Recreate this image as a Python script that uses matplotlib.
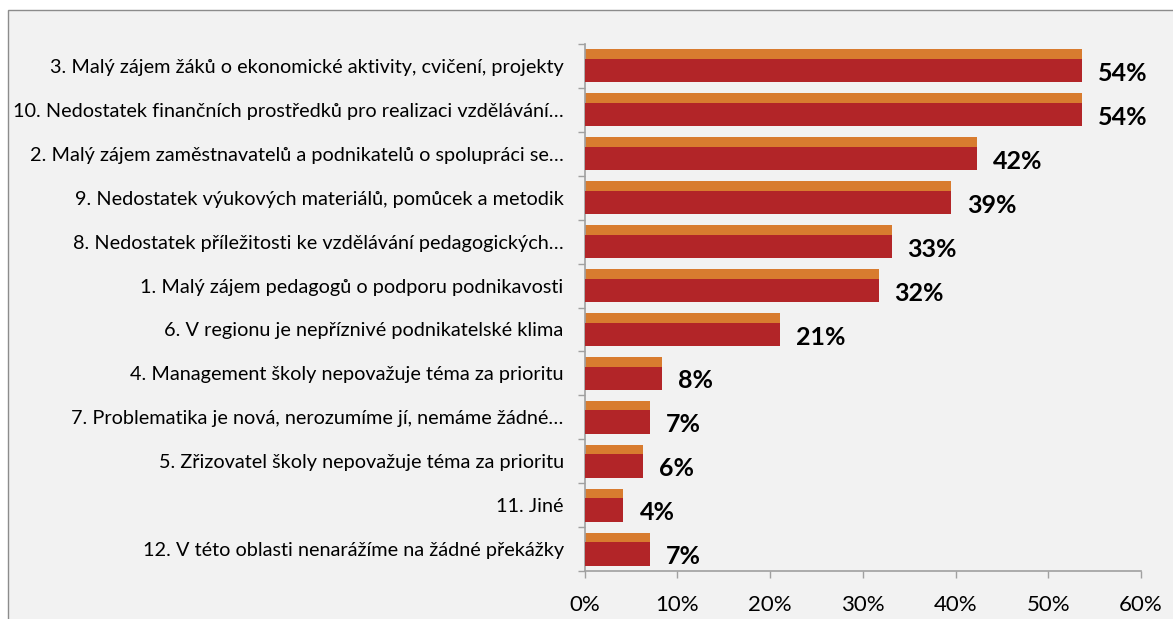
import matplotlib.pyplot as plt
import numpy as np
from matplotlib.patches import Rectangle

categories = [
    "3. Malý zájem žáků o ekonomické aktivity, cvičení, projekty",
    "10. Nedostatek finančních prostředků pro realizaci vzdělávání…",
    "2. Malý zájem zaměstnavatelů a podnikatelů o spolupráci se…",
    "9. Nedostatek výukových materiálů, pomůcek a metodik",
    "8. Nedostatek příležitosti ke vzdělávání pedagogických…",
    "1. Malý zájem pedagogů o podporu podnikavosti",
    "6. V regionu je nepříznivé podnikatelské klima",
    "4. Management školy nepovažuje téma za prioritu",
    "7. Problematika je nová, nerozumíme jí, nemáme žádné…",
    "5. Zřizovatel školy nepovažuje téma za prioritu",
    "11. Jiné",
    "12. V této oblasti nenarážíme na žádné překážky",
]
values = [53.6, 53.6, 42.3, 39.5, 33.1, 31.7, 21.1, 8.4, 7.1, 6.3, 4.2, 7.1]
labels = ["54%", "54%", "42%", "39%", "33%", "32%", "21%", "8%", "7%", "6%", "4%", "7%"]
xticks = [0, 10, 20, 30, 40, 50, 60]

plt.rcParams['font.family'] = ['Lato', 'DejaVu Sans']

fig = plt.figure(figsize=(11.73, 6.19), dpi=100)
fig.patch.set_facecolor('white')
# chart area frame
frame = Rectangle((8 / 1173, -0.1), 1.2, 1 - 10 / 619 + 0.1, transform=fig.transFigure,
                  facecolor='#f2f2f2', edgecolor='#8c8c8c', linewidth=1.0, zorder=-10)
fig.add_artist(frame)

ax = fig.add_axes([584.5 / 1173, 1 - 571 / 619, (1141 - 584.5) / 1173, (571 - 44) / 619])
ax.set_facecolor('none')

y = np.arange(len(categories))
h_all = 0.75
h_red = 0.53
ax.barh(y, values, height=h_all, color='#d87c2f', zorder=2)
ax.barh(y + (h_all - h_red) / 2, values, height=h_red, color='#b22528', zorder=3)

for yi, v, lab in zip(y, values, labels):
    ax.annotate(lab, (v, yi + (h_all - h_red) / 2), xytext=(11.5, -2), textcoords='offset points',
                va='center', ha='left', fontsize=18, fontweight='bold', color='black')

ax.set_ylim(len(categories) - 0.5, -0.5)
ax.set_xlim(0, 60)
ax.set_yticks(y)
ax.set_yticklabels(categories, fontsize=14.3)
ax.tick_params(axis='y', which='major', length=0, pad=15)
ax.set_yticks(np.arange(-0.5, len(categories), 1), minor=True)
ax.tick_params(axis='y', which='minor', length=5, color='#a0a0a0', width=1)
ax.set_xticks(xticks)
ax.set_xticklabels([f"{t}%" for t in xticks], fontsize=16)
ax.tick_params(axis='x', length=5, color='#a0a0a0', width=1, pad=12)

for s in ['top', 'right']:
    ax.spines[s].set_visible(False)
for s in ['left', 'bottom']:
    ax.spines[s].set_color('#a0a0a0')
    ax.spines[s].set_linewidth(1.2)

fig.savefig('out.png', dpi=100)
